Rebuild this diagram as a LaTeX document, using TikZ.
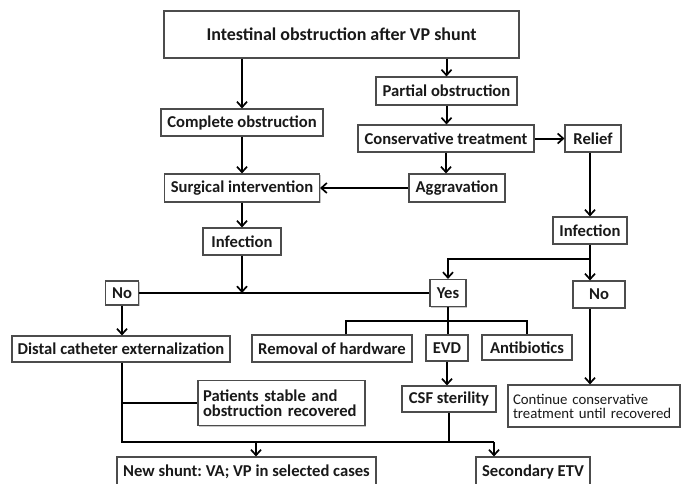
\documentclass[tikz,border=0pt]{standalone}
\usepackage{fontspec}
\setmainfont{Carlito}
\frenchspacing
\usetikzlibrary{arrows.meta,shadows}
\begin{document}
\begin{tikzpicture}[x=1pt,y=-1pt,
  box/.style={draw=black!70, line width=1.1pt, fill=white, inner sep=2pt, text=black!90,
    drop shadow={shadow xshift=1.2pt, shadow yshift=-1.2pt, fill=black!22, opacity=1},
    font=\bfseries\fontsize{16.6}{18}\selectfont},
  arr/.style={line width=2pt, -{Straight Barb[length=5.5pt,width=10pt,line width=1.7pt]}},
  ln/.style={line width=2pt}]
\clip (0,0) rectangle (682,483);
\fill[white] (0,0) rectangle (682,483);
% nodes
\node[box, minimum width=355, minimum height=47, font=\bfseries\fontsize{18}{20}\selectfont] (title) at (341.5,34.5) {Intestinal obstruction after VP shunt};
\node[box, minimum width=162, minimum height=27] (complete) at (242,122.5) {Complete obstruction};
\node[box, minimum width=141, minimum height=28] (partial) at (446.5,91) {Partial obstruction};
\node[box, minimum width=176, minimum height=27] (conservative) at (446,138.5) {Conservative treatment};
\node[box, minimum width=56, minimum height=27] (relief) at (593,138.5) {Relief};
\node[box, minimum width=96, minimum height=28] (aggravation) at (457,188) {Aggravation};
\node[box, minimum width=155, minimum height=28] (surgical) at (242,188) {Surgical intervention};
\node[box, minimum width=78, minimum height=27] (infL) at (242,241.5) {Infection};
\node[box, minimum width=74, minimum height=27] (infR) at (590,230.5) {Infection};
\node[box, minimum width=33, minimum height=24] (noL) at (122,293) {No};
\node[box, minimum width=36, minimum height=27] (yes) at (448,293) {Yes};
\node[box, minimum width=52, minimum height=27] (noR) at (599,294.5) {No};
\node[box, minimum width=218, minimum height=26] (distal) at (121,349) {Distal catheter externalization};
\node[box, minimum width=160, minimum height=27] (removal) at (332,348.5) {Removal of hardware};
\node[box, minimum width=42, minimum height=26] (evd) at (447,348) {EVD};
\node[box, minimum width=90, minimum height=25] (antib) at (527,347.5) {Antibiotics};
\node[box, minimum width=167, minimum height=45, align=left, text width=157, inner sep=5pt] (patients) at (281.5,403) {Patients stable and\\[-3pt]obstruction recovered};
\node[box, minimum width=94, minimum height=26] (csf) at (449,399) {CSF sterility};
\node[box, minimum width=172, minimum height=42, align=left, text width=162, inner sep=5pt, font=\fontsize{14.8}{16}\selectfont] (continue) at (594,406) {Continue conservative\\[-2pt]treatment until recovered};
\node[box, minimum width=259, minimum height=30] (newshunt) at (246.5,472) {New shunt: VA; VP in selected cases};
\node[box, minimum width=114, minimum height=30] (secetv) at (533,472) {Secondary ETV};
% connectors
\draw[arr] (complete.north |- title.south) -- (complete.north);
\draw[arr] (partial.north |- title.south) -- (partial.north);
\draw[arr] (partial.south) -- (partial.south |- conservative.north);
\draw[arr] (conservative.south) -- (conservative.south |- aggravation.north);
\draw[arr] (conservative.east) -- (relief.west);
\draw[arr] (aggravation.west) -- (surgical.east);
\draw[arr] (complete.south) -- (complete.south |- surgical.north);
\draw[arr] (surgical.south) -- (surgical.south |- infL.north);
\draw[arr] (infR.north |- relief.south) -- (infR.north);
% left infection
\draw[ln] (noL.east) -- (yes.west);
\draw[arr] (infL.south) -- (infL.south |- noL.east);
% right infection split
\coordinate (sp) at (590,259);
\draw[ln] (infR.south) -- (sp);
\draw[arr] (sp) -| (yes.north);
\draw[arr] (sp) -- (sp |- noR.north);
\draw[arr] (noR.south -| sp) -- (continue.north -| sp);
% yes branches
\coordinate (yb) at (448,321);
\coordinate (rb) at (346,321);
\draw[ln] (yes.south) -- (yes.south |- evd.north);
\draw[ln] (rb |- removal.north) -- (rb) -- (antib.north |- yb) -- (antib.north);
\draw[arr] (evd.south) -- (evd.south |- csf.north);
% left branch
\draw[arr] (noL.south) -- (noL.south |- distal.north);
\coordinate (bl) at (122,442);
\coordinate (br) at (494,442);
\coordinate (ns) at (256,442);
\draw[ln] (distal.south -| bl) -- (bl) -- (br);
\draw[ln] (bl |- patients.west) -- (patients.west);
\draw[ln] (csf.south) -- (csf.south |- bl);
\draw[arr] (br) -- (br |- secetv.north);
\draw[arr] (ns) -- (ns |- newshunt.north);
\end{tikzpicture}
\end{document}
